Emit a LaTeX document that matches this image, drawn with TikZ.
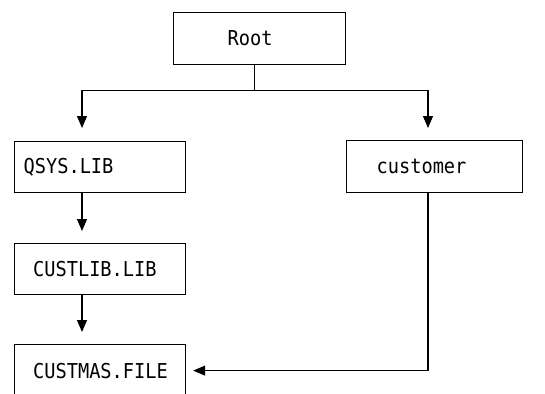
\documentclass[tikz,border=0pt]{standalone}
\usepackage{fontspec}
\setmonofont[FakeStretch=0.91]{DejaVu Sans Mono}
\usetikzlibrary{arrows.meta}
\begin{document}
\begin{tikzpicture}[x=1pt,y=-1pt,line width=1.2pt,
  box/.style={draw,rectangle,inner ysep=0pt,minimum height=52pt,align=left,
    font=\ttfamily\fontsize{20.5}{22}\selectfont},
  arr/.style={-{Triangle[length=12pt,width=10pt]}}]
\useasboundingbox (0,0) rectangle (545,393);
\clip (0,0) rectangle (545,393);
\node[box,anchor=north west,inner xsep=54pt,text width=64pt] (root) at (173,12) {Root};
\node[box,anchor=north west,inner xsep=9pt,text width=153pt,minimum height=51pt] (qsys) at (14,141) {QSYS.LIB};
\node[box,anchor=north west,inner xsep=30pt,text width=116pt] (cust) at (346,140) {customer};
\node[box,anchor=north west,inner xsep=18.5pt,text width=134pt,minimum height=51pt] (custlib) at (14,243) {CUSTLIB.LIB};
\node[box,anchor=north west,inner xsep=18.5pt,text width=134pt] (custmas) at (14,344) {CUSTMAS.FILE};
\coordinate (rb) at ([xshift=-5pt]root.south);
\coordinate (j) at ([yshift=-25pt]rb);
\draw (rb) -- (j);
\draw[arr,shorten >=13pt] (j) -| ([xshift=68pt]qsys.north west);
\draw[arr,shorten >=12pt] (j) -| ([xshift=82pt]cust.north west);
\draw[arr,shorten >=12pt] ([xshift=68pt]qsys.south west) -- ([xshift=68pt]custlib.north west);
\draw[arr,shorten >=12pt] ([xshift=68pt]custlib.south west) -- ([xshift=68pt]custmas.north west);
\draw[arr,shorten >=7pt] ([xshift=82pt]cust.south west) |- (custmas.east);
\end{tikzpicture}
\end{document}
